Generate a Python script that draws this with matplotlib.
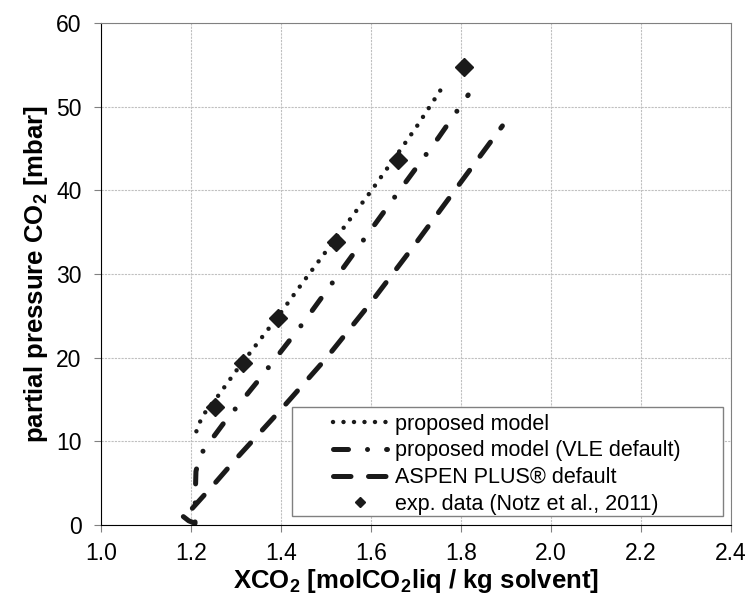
import matplotlib
matplotlib.use("Agg")
import matplotlib.pyplot as plt
from matplotlib.patches import Rectangle

plt.rcParams['font.family'] = ['Liberation Sans', 'DejaVu Sans']
plt.rcParams['mathtext.fontset'] = 'custom'
plt.rcParams['mathtext.rm'] = 'Liberation Sans'
plt.rcParams['mathtext.bf'] = 'Liberation Sans:bold'

# proposed model
x_prop = [1.212, 1.218, 1.226, 1.237, 1.253, 1.30, 1.35, 1.393, 1.45, 1.50, 1.55, 1.60, 1.666, 1.70, 1.756]
y_prop = [11.2, 12.1, 13.0, 13.9, 14.9, 18.4, 21.9, 24.9, 29.1, 32.7, 36.3, 39.9, 44.9, 47.5, 52.1]

# proposed model (VLE default)
x_vle = [1.183, 1.195, 1.209, 1.2095, 1.211, 1.216, 1.225, 1.244, 1.273, 1.35, 1.45, 1.55, 1.65, 1.75, 1.816]
y_vle = [1.0, 0.5, 0.2, 3.5, 6.4, 7.6, 8.7, 10.1, 12.2, 17.3, 24.2, 31.6, 39.0, 46.3, 51.4]

# ASPEN PLUS default
x_asp = [1.203, 1.25, 1.30, 1.40, 1.50, 1.60, 1.70, 1.80, 1.892]
y_asp = [2.0, 4.8, 7.9, 13.8, 19.9, 26.6, 33.7, 41.0, 47.7]

# exp. data (Notz et al., 2011)
x_exp = [1.253, 1.316, 1.393, 1.522, 1.661, 1.807]
y_exp = [14.1, 19.4, 24.8, 33.8, 43.6, 54.8]

fig = plt.figure(figsize=(7.5, 6.08), dpi=100)
ax = fig.add_axes([101/750, 1 - 525/608, 630/750, 502/608])

ax.plot(x_prop, y_prop, color='#1a1a1a', lw=3.2, linestyle=(0, (0.01, 2.35)),
        dash_capstyle='round', label='proposed model')
ax.plot(x_vle, y_vle, color='#1a1a1a', lw=3.6, linestyle=(0, (3.0, 3.8, 0.01, 3.8)),
        dash_capstyle='round', label='proposed model (VLE default)')
ax.plot(x_asp, y_asp, color='#1a1a1a', lw=3.6, linestyle=(0, (3.5, 3.5)),
        dash_capstyle='round', label='ASPEN PLUS® default')
ax.plot(x_exp, y_exp, 'D', color='#1a1a1a', ms=9, linestyle='none',
        label='exp. data (Notz et al., 2011)')

ax.set_xlim(1.0, 2.4)
ax.set_ylim(0, 60)
ax.set_xticks([1.0, 1.2, 1.4, 1.6, 1.8, 2.0, 2.2, 2.4])
ax.set_xticklabels(['1.0', '1.2', '1.4', '1.6', '1.8', '2.0', '2.2', '2.4'])
ax.set_yticks([0, 10, 20, 30, 40, 50, 60])

ax.grid(True, color='#c0c0c0', linestyle=(0, (2, 1)), lw=0.8)
ax.set_axisbelow(True)
for s in ['top', 'right']:
    ax.spines[s].set_color('#808080')
for s in ['left', 'bottom']:
    ax.spines[s].set_color('black')
ax.tick_params(axis='both', direction='out', length=5, color='#808080', labelsize=16.5)
ax.tick_params(axis='y', pad=9)
ax.tick_params(axis='x', pad=7)

ax.set_xlabel(r'XCO$_\mathbf{2}$ [molCO$_\mathbf{2}$liq / kg solvent]', fontsize=18.5,
              fontweight='bold', labelpad=2)
ax.set_ylabel(r'partial pressure CO$_\mathbf{2}$ [mbar]', fontsize=18.5,
              fontweight='bold', labelpad=4)

ax.add_patch(Rectangle((0.303, 0.018), 0.684, 0.217, transform=ax.transAxes,
                       facecolor='white', edgecolor='#808080', lw=1, zorder=4))
leg = ax.legend(loc='upper left', bbox_to_anchor=(0.368, 0.222), frameon=False,
                fontsize=15.5, handlelength=2.5, handletextpad=0.37, labelspacing=0.27,
                borderpad=0, borderaxespad=0, markerscale=0.6)
leg.set_zorder(5)

fig.savefig('out.png', dpi=100)
